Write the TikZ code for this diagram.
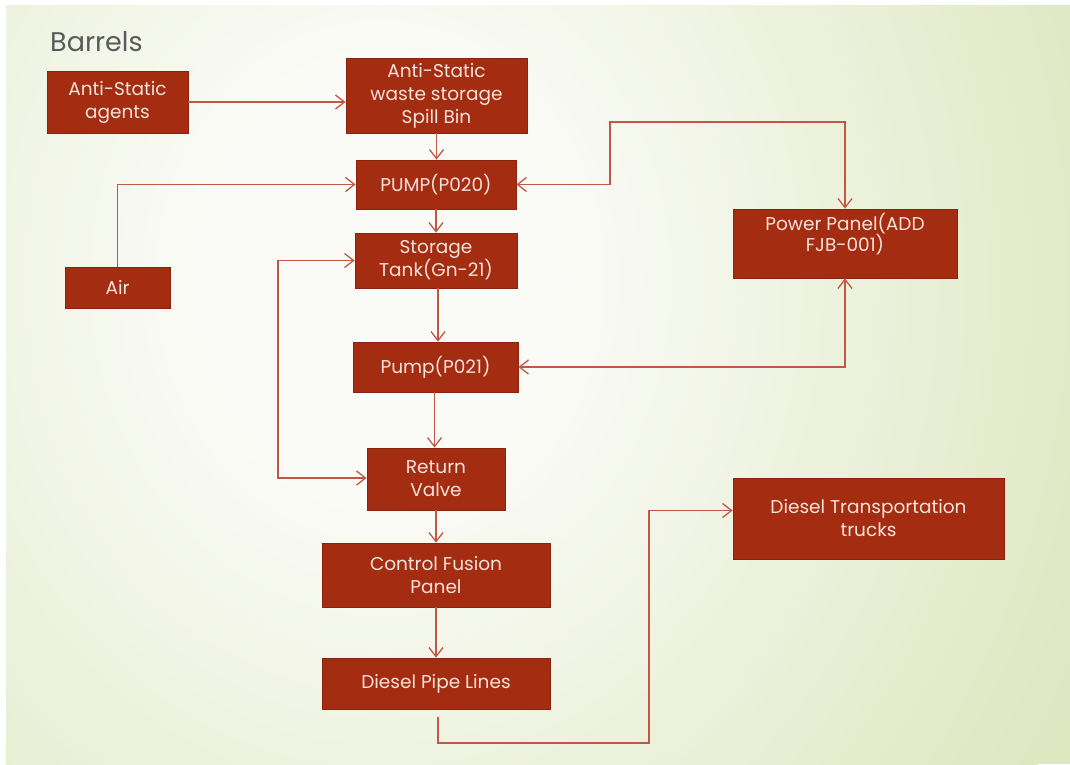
\documentclass[tikz,border=0pt]{standalone}
\usepackage{fontspec}
\setmainfont{Poppins}
\usetikzlibrary{arrows.meta}
\definecolor{boxfill}{RGB}{164,44,17}
\definecolor{boxedge}{RGB}{135,35,14}
\definecolor{boxtext}{RGB}{245,228,220}
\definecolor{wire}{RGB}{192,88,70}
\definecolor{bgA}{RGB}{250,251,246}
\definecolor{bgB}{RGB}{221,231,192}
\definecolor{titlegray}{RGB}{90,90,90}
\pgfdeclareradialshading{slidebg}{\pgfpoint{0bp}{0bp}}{color(0bp)=(bgA); color(6bp)=(bgA); color(25bp)=(bgB); color(50bp)=(bgB)}
\tikzset{
  procbox/.style={draw=boxedge, line width=0.8pt, fill=boxfill, text=boxtext,
    inner sep=0pt, align=center, font=\fontsize{18.5}{23}\selectfont},
  wireline/.style={draw=wire, line width=1.3pt,
    arrows={-Straight Barb[length=9pt,width=14pt,line width=1.3pt]}},
  wireboth/.style={draw=wire, line width=1.3pt,
    arrows={Straight Barb[length=9pt,width=14pt,line width=1.3pt]-Straight Barb[length=9pt,width=14pt,line width=1.3pt]}},
}
\begin{document}
\begin{tikzpicture}[x=1pt,y=-1pt]
\useasboundingbox (0,0) rectangle (1070,764);
\fill[white] (0,0) rectangle (1070,764);
\begin{scope}
  \clip (6,5) rectangle (1070,764);
  \fill[bgB] (6,5) rectangle (1070,764);
  \shade[shading=slidebg] (380,280) ellipse [x radius=780, y radius=900];
\end{scope}

\node[anchor=base west, text=titlegray, font=\fontsize{27}{30}\selectfont, inner sep=0pt] (title) at (50,51) {Barrels};

\node[procbox, minimum width=141pt, minimum height=62pt] (agents) at (117.5,102) {Anti-Static\\agents};
\node[procbox, minimum width=181pt, minimum height=75pt] (spill) at (436.5,95.5) {Anti-Static\\waste storage\\Spill Bin};
\node[procbox, minimum width=160pt, minimum height=49pt] (pump1) at (436,184.5) {PUMP(P020)};
\node[procbox, minimum width=105pt, minimum height=41pt] (air) at (117.5,287.5) {Air};
\node[procbox, minimum width=224pt, minimum height=69pt, font=\fontsize{18.5}{21}\selectfont] (power) at (845,243.5) {Power Panel(ADD\\FJB-001)\\[2pt]\mbox{}};
\node[procbox, minimum width=162pt, minimum height=55pt] (tank) at (436,260.5) {Storage\\Tank(Gn-21)};
\node[procbox, minimum width=165pt, minimum height=50pt] (pump2) at (435.5,367) {Pump(P021)};
\node[procbox, minimum width=138pt, minimum height=62pt] (valve) at (436,479) {Return\\Valve};
\node[procbox, minimum width=228pt, minimum height=64pt] (fusion) at (436,575) {Control Fusion\\Panel};
\node[procbox, minimum width=228pt, minimum height=51pt] (pipe) at (436,683.5) {Diesel Pipe Lines};
\node[procbox, minimum width=271pt, minimum height=81pt] (trucks) at (868.5,518.5) {Diesel Transportation\\trucks};

\coordinate (c1) at (610,122);
\coordinate (c2) at (278,370);
\coordinate (c3) at (649,743);

\draw[wireline] (agents.east) -- (agents.east -| spill.west);
\draw[wireline] (spill.south) -- (spill.south |- pump1.north);
\draw[wireline] (air.north) |- (pump1.west);
\draw[wireboth] (pump1.east) -| (c1) -| (power.north);
\draw[wireline] (pump1.south) -- (pump1.south |- tank.north);
\draw[wireline] ([xshift=2pt]tank.south) -- ([xshift=2pt]tank.south |- pump2.north);
\draw[wireboth] (power.south) |- (pump2.east);
\draw[wireline] ([xshift=-1pt]pump2.south) -- ([xshift=-1pt]pump2.south |- valve.north);
\draw[wireboth] (tank.west) -| (c2) |- ([yshift=1pt]valve.west);
\draw[wireline] (valve.south) -- (fusion.north);
\draw[wireline] (fusion.south) -- (pipe.north);
\draw[wireline] ([xshift=2pt,yshift=-8pt]pipe.south) |- (c3) |- ([yshift=8pt]trucks.west);
\end{tikzpicture}
\end{document}
